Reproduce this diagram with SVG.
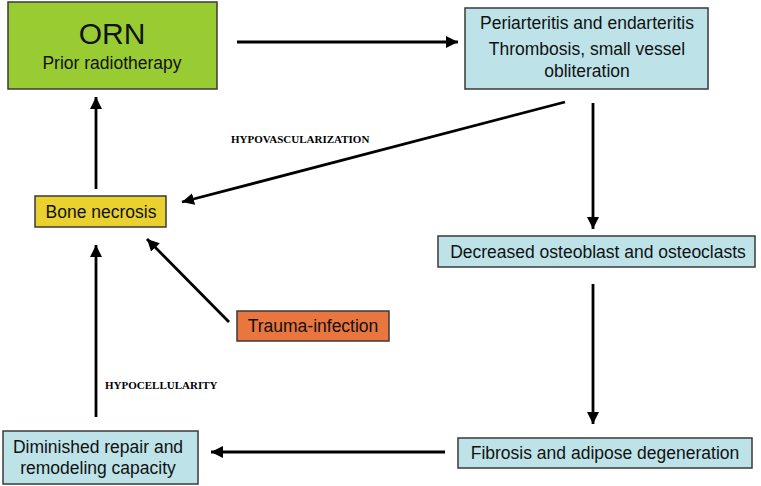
<svg xmlns="http://www.w3.org/2000/svg" width="761" height="486" viewBox="0 0 761 486">
<defs>
<marker id="ah" viewBox="0 0 10 10" refX="10" refY="5" markerWidth="4.3" markerHeight="4.3" orient="auto" markerUnits="strokeWidth">
<path d="M0,0 L10,5 L0,10 Z" fill="#000"/>
</marker>
<style>
.box{stroke:#3a3a3a;stroke-width:1.5}
.blue{fill:#bde3e8}
.t{font-family:"Liberation Sans",Arial,sans-serif;fill:#111;text-anchor:middle}
.lbl{font-family:"Liberation Serif","Times New Roman",serif;font-weight:bold;font-size:11px;fill:#000}
.c{stroke:#000;stroke-width:2.8;fill:none;marker-end:url(#ah)}
</style>
</defs>
<rect width="761" height="486" fill="#fff"/>
<g id="orn">
<rect class="box" x="8" y="2" width="209" height="87" fill="#99cc33"/>
<text class="t" x="112" y="44" font-size="30">ORN</text>
<text class="t" x="112" y="69" font-size="17.5">Prior radiotherapy</text>
</g>
<g id="periarteritis">
<rect class="box blue" x="465" y="8" width="243" height="81"/>
<text class="t" x="587" y="29" font-size="17.5">Periarteritis and endarteritis</text>
<text class="t" x="587" y="55" font-size="17.5">Thrombosis, small vessel</text>
<text class="t" x="587" y="77" font-size="17.5">obliteration</text>
</g>
<g id="bone">
<rect class="box" x="35" y="196" width="131" height="31" fill="#ead12f"/>
<text class="t" x="101" y="218" font-size="17.5">Bone necrosis</text>
</g>
<g id="decreased">
<rect class="box blue" x="438" y="236" width="317" height="31"/>
<text class="t" x="598" y="258" font-size="17.5">Decreased osteoblast and osteoclasts</text>
</g>
<g id="trauma">
<rect class="box" x="237" y="311" width="152" height="30" fill="#e9763f"/>
<text class="t" x="313" y="332" font-size="17.5">Trauma-infection</text>
</g>
<g id="diminished">
<rect class="box blue" x="3" y="431" width="195" height="53"/>
<text class="t" x="98" y="453" font-size="17.5">Diminished repair and</text>
<text class="t" x="98" y="474" font-size="17.5">remodeling capacity</text>
</g>
<g id="fibrosis">
<rect class="box blue" x="458" y="438" width="294" height="30"/>
<text class="t" x="605" y="459" font-size="17.5">Fibrosis and adipose degeneration</text>
</g>
<g id="connectors">
<line class="c" x1="237" y1="42" x2="458" y2="42"/>
<line class="c" x1="593" y1="103" x2="593" y2="229"/>
<line class="c" x1="593" y1="284" x2="593" y2="424"/>
<line class="c" x1="445" y1="452" x2="211" y2="452"/>
<line class="c" x1="96" y1="417" x2="96" y2="245"/>
<line class="c" x1="96" y1="189" x2="96" y2="97"/>
<line class="c" x1="565" y1="102" x2="182" y2="202"/>
<line class="c" x1="229" y1="322" x2="147" y2="239"/>
</g>
<text class="lbl" x="231" y="143">HYPOVASCULARIZATION</text>
<text class="lbl" x="105" y="389">HYPOCELLULARITY</text>
</svg>
